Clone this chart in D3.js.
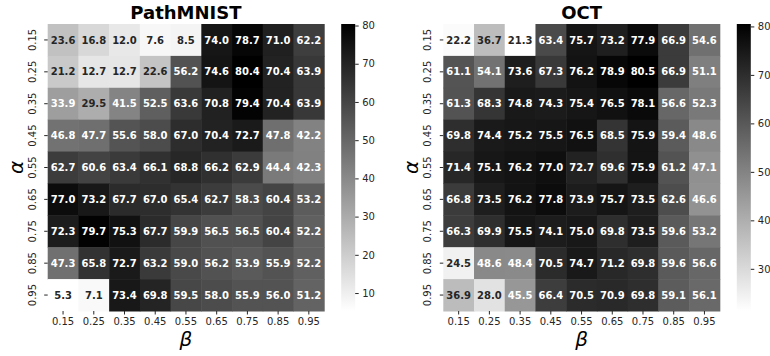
<!DOCTYPE html>
<html>
<head>
<meta charset="utf-8">
<script src="https://cdn.jsdelivr.net/npm/d3@7"></script>
<style>
  body { margin: 0; background: #fff; }
  svg { font-family: "DejaVu Sans", sans-serif; }
</style>
</head>
<body>
<svg id="chart" width="770" height="356"></svg>
<script>
// alpha on rows, beta on columns
const alphaLabels = ["0.15", "0.25", "0.35", "0.45", "0.55", "0.65", "0.75", "0.85", "0.95"];
const betaLabels = ["0.15", "0.25", "0.35", "0.45", "0.55", "0.65", "0.75", "0.85", "0.95"];

const pathValues = [
  [23.6, 16.8, 12.0, 7.6, 8.5, 74.0, 78.7, 71.0, 62.2],
  [21.2, 12.7, 12.7, 22.6, 56.2, 74.6, 80.4, 70.4, 63.9],
  [33.9, 29.5, 41.5, 52.5, 63.6, 70.8, 79.4, 70.4, 63.9],
  [46.8, 47.7, 55.6, 58.0, 67.0, 70.4, 72.7, 47.8, 42.2],
  [62.7, 60.6, 63.4, 66.1, 68.8, 66.2, 62.9, 44.4, 42.3],
  [77.0, 73.2, 67.7, 67.0, 65.4, 62.7, 58.3, 60.4, 53.2],
  [72.3, 79.7, 75.3, 67.7, 59.9, 56.5, 56.5, 60.4, 52.2],
  [47.3, 65.8, 72.7, 63.2, 59.0, 56.2, 53.9, 55.9, 52.2],
  [5.3, 7.1, 73.4, 69.8, 59.5, 58.0, 55.9, 56.0, 51.2]
];
const octValues = [
  [22.2, 36.7, 21.3, 63.4, 75.7, 73.2, 77.9, 66.9, 54.6],
  [61.1, 54.1, 73.6, 67.3, 76.2, 78.9, 80.5, 66.9, 51.1],
  [61.3, 68.3, 74.8, 74.3, 75.4, 76.5, 78.1, 56.6, 52.3],
  [69.8, 74.4, 75.2, 75.5, 76.5, 68.5, 75.9, 59.4, 48.6],
  [71.4, 75.1, 76.2, 77.0, 72.7, 69.6, 75.9, 61.2, 47.1],
  [66.8, 73.5, 76.2, 77.8, 73.9, 75.7, 73.5, 62.6, 46.6],
  [66.3, 69.9, 75.5, 74.1, 75.0, 69.8, 73.5, 59.6, 53.2],
  [24.5, 48.6, 48.4, 70.5, 74.7, 71.2, 69.8, 59.6, 56.6],
  [36.9, 28.0, 45.5, 66.4, 70.5, 70.9, 69.8, 59.1, 56.1]
];
const pathTicks = [10, 20, 30, 40, 50, 60, 70, 80];
const octTicks = [30, 40, 50, 60, 70, 80];

const svg = d3.select("#chart");
const gridW = 276.5, gridH = 287, gridTop = 24;
const tickColor = "#262626";

// same rule seaborn uses to pick the annotation colour
function luminance(c) {
  const rgb = d3.rgb(c);
  const lin = [rgb.r, rgb.g, rgb.b].map(v => {
    v = v / 255;
    return v <= 0.03928 ? v / 12.92 : Math.pow((v + 0.055) / 1.055, 2.4);
  });
  return lin[0] * 0.2126 + lin[1] * 0.7152 + lin[2] * 0.0722;
}

function drawPanel(left, title, values, cbTicks) {
  const g = svg.append("g");
  const flat = values.flat();
  const ext = d3.extent(flat);
  const color = d3.scaleLinear().domain(ext).range(["#ffffff", "#000000"]).interpolate(d3.interpolateRgb);

  const x = d3.scaleBand().domain(betaLabels).range([left, left + gridW]);
  const y = d3.scaleBand().domain(alphaLabels).range([gridTop, gridTop + gridH]);

  const cells = [];
  values.forEach((row, i) => row.forEach((v, j) => cells.push({a: alphaLabels[i], b: betaLabels[j], v: v})));

  g.selectAll("rect.cell")
    .data(cells)
    .enter()
    .append("rect")
    .attr("class", "cell")
    .attr("x", d => x(d.b))
    .attr("y", d => y(d.a))
    .attr("width", x.bandwidth() + 0.5)
    .attr("height", y.bandwidth() + 0.5)
    .attr("fill", d => color(d.v));

  g.selectAll("text.ann")
    .data(cells)
    .enter()
    .append("text")
    .attr("class", "ann")
    .attr("x", d => x(d.b) + x.bandwidth() / 2)
    .attr("y", d => y(d.a) + y.bandwidth() / 2)
    .attr("dy", "0.36em")
    .attr("text-anchor", "middle")
    .attr("font-size", 10)
    .attr("font-weight", "bold")
    .attr("fill", d => luminance(color(d.v)) > 0.408 ? "#262626" : "#ffffff")
    .text(d => d.v.toFixed(1));

  // axes
  const xAxis = g.append("g")
    .attr("transform", "translate(0," + (gridTop + gridH) + ")")
    .call(d3.axisBottom(x).tickSize(3.5).tickPadding(3.5));
  xAxis.select(".domain").remove();
  xAxis.selectAll("line").attr("stroke", tickColor);
  xAxis.selectAll("text").attr("font-size", 10).attr("fill", tickColor).attr("font-family", "DejaVu Sans");

  const yAxis = g.append("g")
    .attr("transform", "translate(" + left + ",0)")
    .call(d3.axisLeft(y).tickSize(3.5).tickPadding(3.5));
  yAxis.select(".domain").remove();
  yAxis.selectAll("line").attr("stroke", tickColor);
  yAxis.selectAll("text")
    .attr("font-size", 10)
    .attr("fill", tickColor)
    .attr("font-family", "DejaVu Sans")
    .attr("text-anchor", "middle")
    .attr("x", null)
    .attr("dy", null)
    .attr("transform", "translate(-12,0) rotate(-90)");

  // titles and axis names
  g.append("text")
    .attr("x", left + gridW / 2)
    .attr("y", 19)
    .attr("text-anchor", "middle")
    .attr("font-size", 18)
    .attr("font-weight", "bold")
    .attr("fill", "#000")
    .text(title);

  g.append("text")
    .attr("x", left + gridW / 2)
    .attr("y", 346)
    .attr("text-anchor", "middle")
    .attr("font-size", 20)
    .attr("font-style", "italic")
    .attr("fill", "#000")
    .text("β");

  g.append("text")
    .attr("transform", "translate(" + (left - 25) + "," + (gridTop + gridH / 2) + ") rotate(-90)")
    .attr("text-anchor", "middle")
    .attr("font-size", 20)
    .attr("font-style", "italic")
    .attr("fill", "#000")
    .text("α");

  // colour bar
  const cbX = left + gridW + 17, cbW = 14;
  const gradId = "grad-" + title;
  const grad = svg.append("defs").append("linearGradient")
    .attr("id", gradId)
    .attr("x1", 0).attr("y1", 1).attr("x2", 0).attr("y2", 0);
  grad.append("stop").attr("offset", "0%").attr("stop-color", color(ext[0]));
  grad.append("stop").attr("offset", "100%").attr("stop-color", color(ext[1]));

  g.append("rect")
    .attr("x", cbX)
    .attr("y", gridTop)
    .attr("width", cbW)
    .attr("height", gridH)
    .attr("fill", "url(#" + gradId + ")");

  const cbScale = d3.scaleLinear().domain(ext).range([gridTop + gridH, gridTop]);
  const cbAxis = g.append("g")
    .attr("transform", "translate(" + (cbX + cbW) + ",0)")
    .call(d3.axisRight(cbScale).tickValues(cbTicks).tickSize(3.5).tickPadding(3.5));
  cbAxis.select(".domain").remove();
  cbAxis.selectAll("line").attr("stroke", tickColor);
  cbAxis.selectAll("text").attr("font-size", 10).attr("fill", tickColor).attr("font-family", "DejaVu Sans");
}

drawPanel(47.7, "PathMNIST", pathValues, pathTicks);
drawPanel(443.3, "OCT", octValues, octTicks);
</script>
</body>
</html>
